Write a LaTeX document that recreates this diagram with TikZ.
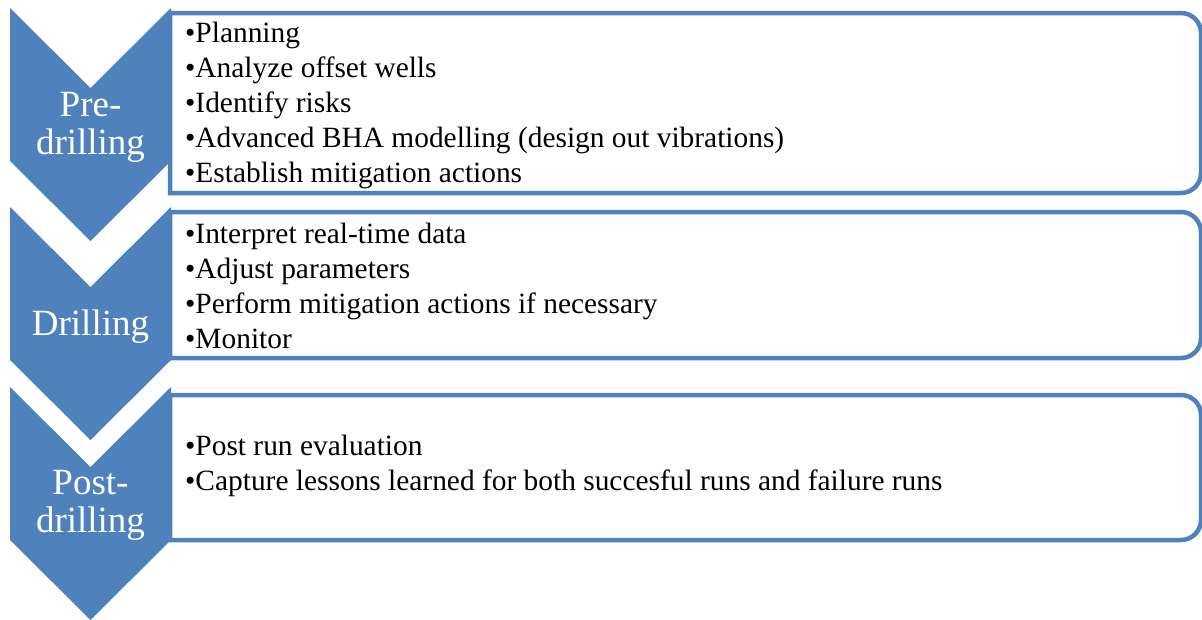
\documentclass[tikz,border=0pt]{standalone}
\usepackage{fontspec}
\setmainfont{Liberation Serif}
\definecolor{accent}{HTML}{4F81BD}
\begin{document}
\begin{tikzpicture}[x=1pt,y=-1pt,
  stage/.style={fill=accent, draw=none},
  panel/.style={draw=accent, line width=4.5pt, fill=white},
  stagelabel/.style={text=white, font=\fontsize{37}{38}\selectfont, align=center, inner sep=0pt},
  items/.style={font=\fontsize{29.4}{35}\selectfont, align=left, anchor=west, inner sep=0pt}]
\useasboundingbox[fill=white] (0,0) rectangle (1202,619);

% panel outline: square on the left, rounded (r = 20) on the right
\newcommand{\panelpath}[2]{%
  \draw[panel] (170,#1) -- (1181,#1) .. controls (1192,#1) and (1201,#1+9) .. (1201,#1+20)
    -- (1201,#2-20) .. controls (1201,#2-9) and (1192,#2) .. (1181,#2) -- (170,#2) -- cycle;}
% chevron pointing down, top edge at #1
\newcommand{\chevronpath}[1]{%
  \fill[stage] (10,#1) -- (90.5,#1+80) -- (171,#1) -- (171,#1+153) -- (90.5,#1+233) -- (10,#1+153) -- cycle;}

\panelpath{13}{193}
\panelpath{212}{358}
\panelpath{395}{540}

\chevronpath{8}
\chevronpath{207}
\chevronpath{387}

\node[stagelabel] (pre) at (90.5,127) {Pre-\\drilling};
\node[stagelabel] (drill) at (90.5,327) {Drilling};
\node[stagelabel] (post) at (90.5,505) {Post-\\drilling};

\node[items] (preitems) at (185,105) {•Planning\\•Analyze offset wells\\•Identify risks\\•Advanced BHA modelling (design out vibrations)\\•Establish mitigation actions};
\node[items] (drillitems) at (185,286) {•Interpret real-time data\\•Adjust parameters\\•Perform mitigation actions if necessary\\•Monitor};
\node[items] (postitems) at (185,466) {•Post run evaluation\\•Capture lessons learned for both succesful runs and failure runs};
\end{tikzpicture}
\end{document}
